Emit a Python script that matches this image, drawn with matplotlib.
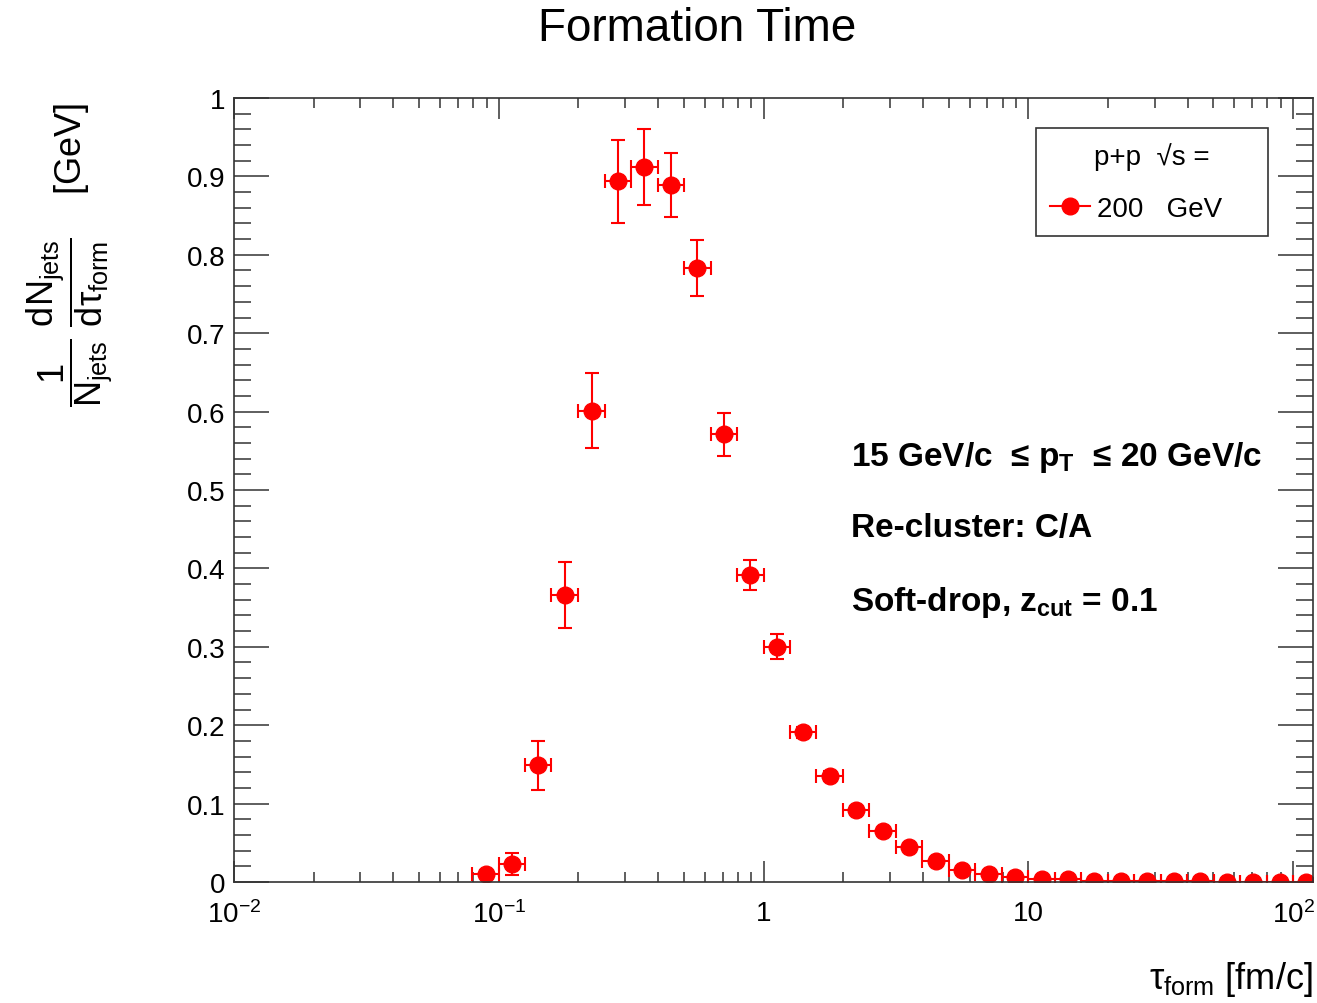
import numpy as np
import matplotlib
matplotlib.use('Agg')
import matplotlib.pyplot as plt
from matplotlib.lines import Line2D
from matplotlib.ticker import FixedLocator, FixedFormatter, MultipleLocator, LogLocator, NullFormatter

plt.rcParams['font.family'] = ['Liberation Sans', 'DejaVu Sans']
plt.rcParams['mathtext.fontset'] = 'custom'
plt.rcParams['mathtext.rm'] = 'Liberation Sans'
plt.rcParams['mathtext.it'] = 'Liberation Sans'
plt.rcParams['mathtext.bf'] = 'Liberation Sans:bold'

# bin edges of tau_form [fm/c] (log bins)
bin_edges = [0.0794, 0.1, 0.126, 0.158, 0.2, 0.251, 0.316, 0.398, 0.501, 0.631,
             0.794, 1.0, 1.26, 1.58, 2.0, 2.51, 3.16, 3.98, 5.01, 6.31,
             7.94, 10.0, 12.6, 15.8, 20.0, 25.1, 31.6, 39.8, 50.1, 63.1,
             79.4, 100.0, 126.0]

# normalised counts per bin
counts = [0.010, 0.023, 0.149, 0.366, 0.601, 0.894, 0.912, 0.889, 0.783, 0.571,
          0.392, 0.300, 0.191, 0.135, 0.092, 0.065, 0.045, 0.027, 0.015, 0.010,
          0.006, 0.004, 0.004, 0.001, 0.001, 0.001, 0.001, 0.001, 0.0005, 0.0005,
          0.0005, 0.0005]
count_err = [0.005, 0.014, 0.031, 0.042, 0.048, 0.053, 0.048, 0.041, 0.036, 0.027,
             0.019, 0.016, 0.007, 0.006, 0.005, 0.004, 0.003, 0.003, 0.002, 0.002,
             0.001, 0.001, 0.001, 0.0005, 0.0005, 0.0005, 0.0005, 0.0005, 0.0, 0.0,
             0.0, 0.0]

x_ticks = [0.01, 0.1, 1, 10, 100]
x_tick_labels = [r'$10^{-2}$', r'$10^{-1}$', '1', '10', r'$10^{2}$']
y_ticks = [0, 0.1, 0.2, 0.3, 0.4, 0.5, 0.6, 0.7, 0.8, 0.9, 1.0]
y_tick_labels = ['0', '0.1', '0.2', '0.3', '0.4', '0.5', '0.6', '0.7', '0.8', '0.9', '1']

edges = np.array(bin_edges)
lo = edges[:-1]
hi = edges[1:]
x = np.sqrt(lo * hi)
xerr = [x - lo, hi - x]

fig = plt.figure(figsize=(13.17, 10.04), dpi=100)
ax = fig.add_axes([0.1777, 0.1205, 0.8193, 0.7809])

# no markeredgewidth here, it would also switch off the caps
ax.errorbar(x, counts, yerr=count_err, xerr=xerr, fmt='o', color='#ff0000',
            ecolor='#ff0000', elinewidth=1.5, capsize=5, capthick=1.5,
            markersize=12, markeredgecolor='#ff0000')

ax.set_xscale('log')
ax.set_xlim(0.01, 119)
ax.set_ylim(0, 1)

ax.xaxis.set_major_locator(FixedLocator(x_ticks))
ax.xaxis.set_major_formatter(FixedFormatter(x_tick_labels))
ax.xaxis.set_minor_locator(LogLocator(base=10, subs=np.arange(2, 10), numticks=20))
ax.xaxis.set_minor_formatter(NullFormatter())
ax.yaxis.set_major_locator(FixedLocator(y_ticks))
ax.yaxis.set_major_formatter(FixedFormatter(y_tick_labels))
ax.yaxis.set_minor_locator(MultipleLocator(0.02))

ax.tick_params(axis='both', which='both', direction='in', top=True, right=True,
               width=1.1, labelsize=20, color='#333333')
ax.tick_params(axis='x', which='major', length=15, pad=13)
ax.tick_params(axis='x', which='minor', length=7.5)
ax.tick_params(axis='y', which='major', length=25, pad=6)
ax.tick_params(axis='y', which='minor', length=12.5)
for s in ax.spines.values():
    s.set_linewidth(1.2)
    s.set_color('#333333')

fig.text(0.529, 0.971, 'Formation Time', ha='center', va='center', fontsize=33)

fig.text(0.053, 0.746,
         r'$\dfrac{1}{N_{jets}}\ \dfrac{dN_{jets}}{d\tau_{form}}$    [GeV]',
         rotation=90, ha='center', va='center', fontsize=26)
fig.text(0.997, 0.024, r'$\tau_{form}$ [fm/c]', ha='right', va='center', fontsize=26)

ax.text(0.572, 0.532, r'15 GeV/c  ≤ $\mathbf{p_{T}}$  ≤ 20 GeV/c', transform=ax.transAxes,
        fontsize=24, fontweight='bold', va='baseline')
ax.text(0.572, 0.441, 'Re-cluster: C/A', transform=ax.transAxes,
        fontsize=24, fontweight='bold', va='baseline')
ax.text(0.572, 0.347, r'Soft-drop, $\mathbf{z_{cut}}$ = 0.1', transform=ax.transAxes,
        fontsize=24, fontweight='bold', va='baseline')

handle = Line2D([], [], color='#ff0000', marker='o', markersize=12, markeredgecolor='#ff0000', linewidth=1.5)
leg = ax.legend([handle], ['200   GeV'], title='p+p  √s =', loc='upper left',
                bbox_to_anchor=(0.743, 0.827, 0.215, 0.135), mode='expand',
                fontsize=20, title_fontsize=20, frameon=True, fancybox=False,
                edgecolor='black', handlelength=1.45, handletextpad=0.25,
                borderpad=0.5, labelspacing=0.95, borderaxespad=0)
leg.get_frame().set_linewidth(1.2)

fig.savefig('out.png', dpi=100)
